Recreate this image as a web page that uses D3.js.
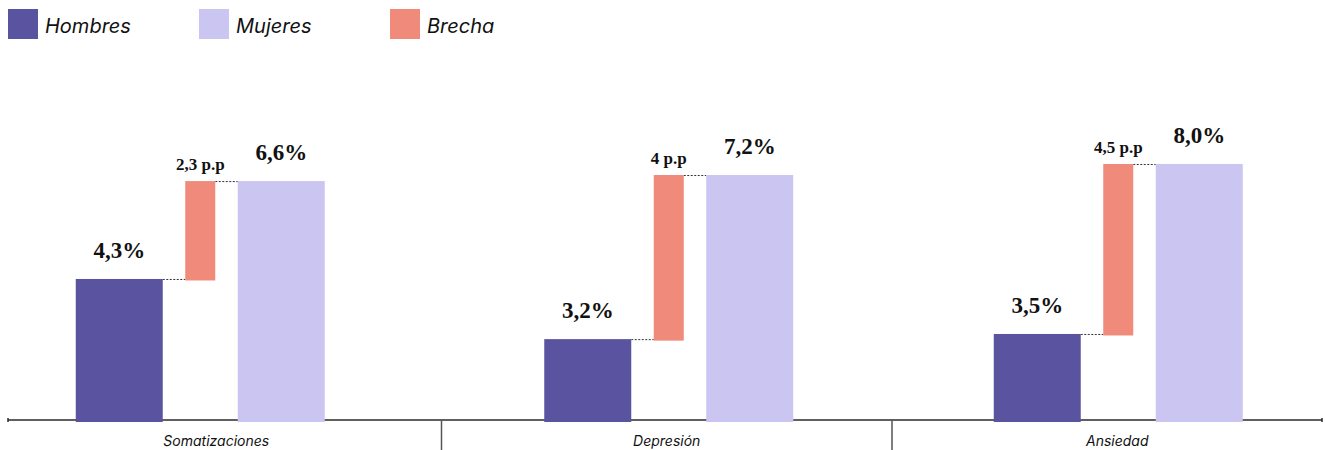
<!DOCTYPE html>
<html lang="es">
<head>
<meta charset="utf-8">
<script src="https://cdn.jsdelivr.net/npm/d3@7"></script>
<style>
  html, body { margin: 0; padding: 0; background: #fff; }
  svg { display: block; }
</style>
</head>
<body>
<svg id="chart" width="1325" height="450"></svg>
<script>
// Prevalencia por sexo y brecha en puntos porcentuales
const categories = ["Somatizaciones", "Depresión", "Ansiedad"];
const hombres = [4.3, 3.2, 3.5];
const mujeres = [6.6, 7.2, 8.0];
const brecha = [2.3, 4, 4.5];
const seriesNames = ["Hombres", "Mujeres", "Brecha"];

// Each panel has its own value axis (floor / ceiling of the visible range)
const panelFloor = [0.94, 1.18, 1.17];
const panelCeil = [7.33, 7.81, 8.37];

const colors = { Hombres: "#5a54a0", Mujeres: "#cbc5f2", Brecha: "#f08a7a" };

const W = 1325, H = 450;
const baseY = 422, topY = 150;
const axisY = 420;
const mainW = 87, gapW = 30;
const panelNudge = [-16, 2, 1];

const svg = d3.select("#chart");
const fmt = v => d3.format(".1f")(v).replace(".", ",");
const fmtGap = v => (Number.isInteger(v) ? String(v) : fmt(v)) + " p.p";

// Panels across the width
const xPanel = d3.scaleBand().domain(categories).range([-9, 1342.5]);
const xInner = d3.scalePoint().domain(["Hombres", "Brecha", "Mujeres"]).range([-81, 81]);

const yScales = categories.map((c, i) =>
  d3.scaleLinear().domain([panelFloor[i], panelCeil[i]]).range([baseY, topY]));

// Baseline axis
const axisG = svg.append("g");
axisG.append("path")
  .attr("d", `M8,${axisY - 2}V${axisY + 2}M8,${axisY}H1322M1322,${axisY - 2}V${axisY + 2}`)
  .attr("stroke", "#2b2b2b").attr("stroke-width", 1.5).attr("fill", "none");

// Panel dividers
const dividers = categories.slice(1).map(c => xPanel(c));
axisG.selectAll("line.div").data(dividers).join("line")
  .attr("class", "div")
  .attr("x1", d => d).attr("x2", d => d)
  .attr("y1", axisY).attr("y2", H)
  .attr("stroke", "#555").attr("stroke-width", 1.5);

// Category labels
svg.selectAll("text.cat").data(categories).join("text")
  .attr("class", "cat")
  .attr("x", d => xPanel(d) + xPanel.bandwidth() / 2)
  .attr("y", 446)
  .attr("text-anchor", "middle")
  .attr("font-family", "Inter, 'Open Sans', sans-serif")
  .attr("font-style", "italic")
  .attr("font-size", 14)
  .attr("fill", "#111")
  .text(d => d);

// Groups
const groups = svg.selectAll("g.grp").data(categories).join("g")
  .attr("class", "grp")
  .attr("transform", (d, i) => `translate(${xPanel(d) + xPanel.bandwidth() / 2 + panelNudge[i]},0)`);

groups.each(function (cat, i) {
  const g = d3.select(this);
  const y = yScales[i];
  const xh = xInner("Hombres") - mainW / 2;
  const xb = xInner("Brecha") - gapW / 2;
  const xm = xInner("Mujeres") - mainW / 2;

  // connectors
  g.append("line")
    .attr("x1", xh + mainW).attr("x2", xb)
    .attr("y1", y(hombres[i]) + 0.5).attr("y2", y(hombres[i]) + 0.5)
    .attr("stroke", "#333").attr("stroke-width", 1).attr("stroke-dasharray", "2,1.5");
  g.append("line")
    .attr("x1", xb + gapW).attr("x2", xm)
    .attr("y1", y(mujeres[i]) + 0.5).attr("y2", y(mujeres[i]) + 0.5)
    .attr("stroke", "#333").attr("stroke-width", 1).attr("stroke-dasharray", "2,1.5");

  // bars
  g.append("rect")
    .attr("x", xh).attr("width", mainW)
    .attr("y", y(hombres[i])).attr("height", baseY - y(hombres[i]))
    .attr("fill", colors.Hombres);
  g.append("rect")
    .attr("x", xm).attr("width", mainW)
    .attr("y", y(mujeres[i])).attr("height", baseY - y(mujeres[i]))
    .attr("fill", colors.Mujeres);
  const gTop = y(hombres[i] + brecha[i]);
  g.append("rect")
    .attr("x", xb).attr("width", gapW)
    .attr("y", gTop).attr("height", y(hombres[i]) + 1.5 - gTop)
    .attr("fill", colors.Brecha);

  // value labels
  const serif = "'Liberation Serif', 'DejaVu Serif', serif";
  g.append("text")
    .attr("x", xInner("Hombres")).attr("y", y(hombres[i]) - 21)
    .attr("text-anchor", "middle").attr("font-family", serif)
    .attr("font-weight", 700).attr("font-size", 23).attr("fill", "#111")
    .text(fmt(hombres[i]) + "%");
  g.append("text")
    .attr("x", xInner("Mujeres")).attr("y", y(mujeres[i]) - 21)
    .attr("text-anchor", "middle").attr("font-family", serif)
    .attr("font-weight", 700).attr("font-size", 23).attr("fill", "#111")
    .text(fmt(mujeres[i]) + "%");
  g.append("text")
    .attr("x", xInner("Brecha")).attr("y", gTop - 11)
    .attr("text-anchor", "middle").attr("font-family", serif)
    .attr("font-weight", 700).attr("font-size", 17).attr("fill", "#111")
    .text(fmtGap(brecha[i]));
});

// Legend
const legendX = d3.scalePoint().domain(seriesNames).range([8, 390]);
const legend = svg.append("g").selectAll("g").data(seriesNames).join("g")
  .attr("transform", d => `translate(${legendX(d)},9)`);
legend.append("rect")
  .attr("width", 30).attr("height", 30)
  .attr("fill", d => colors[d]);
legend.append("text")
  .attr("x", 37).attr("y", 24)
  .attr("font-family", "Inter, 'Open Sans', sans-serif")
  .attr("font-style", "italic")
  .attr("font-size", 20)
  .attr("fill", "#111")
  .text(d => d);
</script>
</body>
</html>
